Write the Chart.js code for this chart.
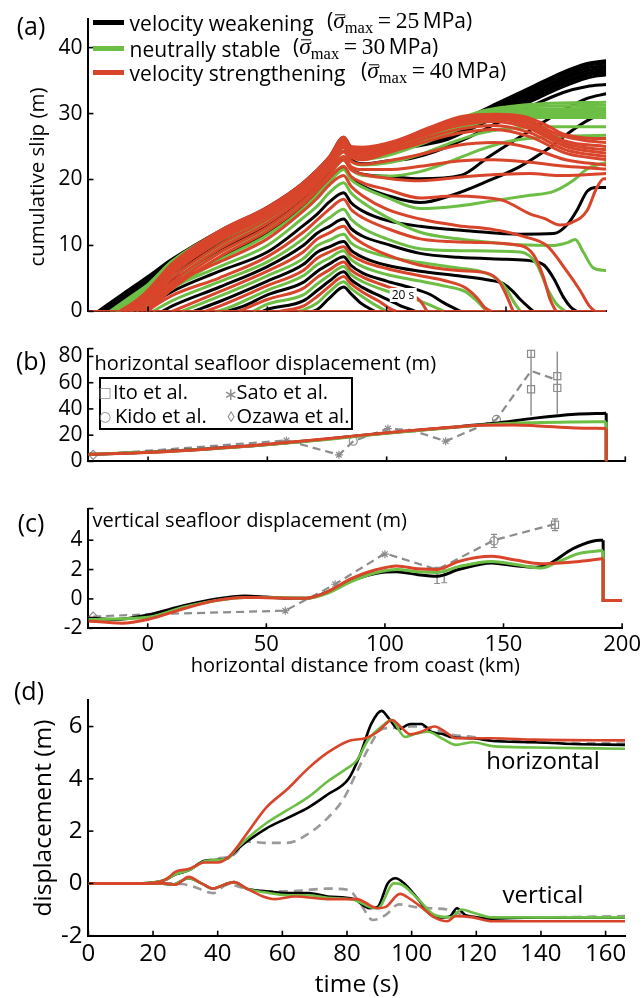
<!DOCTYPE html>
<html><head><meta charset="utf-8">
<script src="https://cdn.jsdelivr.net/npm/chart.js@4.4.1/dist/chart.umd.min.js"></script>
<style>
html,body{margin:0;padding:0;background:#fff;}
body{width:644px;height:998px;position:relative;overflow:hidden;font-family:'Open Sans','DejaVu Sans',sans-serif;color:#000;}
canvas{position:absolute;left:0;}
.t{position:absolute;white-space:nowrap;line-height:1;}
.c{transform:translate(-50%,-50%);}
.v{transform:translate(0,-50%);}
.r{transform:translate(-50%,-50%) rotate(-90deg);}
.ser{font-family:'Liberation Serif','DejaVu Serif',serif;font-size:1.12em;}
.ser sub{font-size:0.7em;vertical-align:-0.3em;}
.sb{font-style:italic;position:relative;display:inline-block;}
.sb::before{content:"";position:absolute;left:18%;right:2%;top:0.2em;border-top:1.3px solid #000;}
.sw{position:absolute;height:5px;}
#lgb{position:absolute;left:98.8px;top:377px;width:250px;height:49px;border:2px solid #000;background:#fff;}
.mk{color:#8c8c8c;}
</style></head>
<body>
<canvas id="ca" width="644" height="330" style="top:0px;width:644px;height:330px"></canvas>
<canvas id="cb" width="644" height="150" style="top:330px;width:644px;height:150px"></canvas>
<canvas id="cc" width="644" height="200" style="top:490px;width:644px;height:200px"></canvas>
<canvas id="cd" width="644" height="318" style="top:680px;width:644px;height:318px"></canvas>

<div class="t c" style="left:31px;top:25px;font-size:25px">(a)</div>
<div class="t c" style="left:31px;top:360px;font-size:25px">(b)</div>
<div class="t c" style="left:31px;top:522px;font-size:25px">(c)</div>
<div class="t c" style="left:29px;top:690px;font-size:25px">(d)</div>
<div class="t r" style="left:36px;top:177px;font-size:20.5px">cumulative slip (m)</div>

<div class="sw" style="left:93px;top:20px;width:31px;background:#000"></div>
<div class="sw" style="left:93px;top:46px;width:31px;background:#6dbe45"></div>
<div class="sw" style="left:93px;top:70px;width:31px;background:#d8452b"></div>
<div class="t v" style="left:129.6px;top:23px;font-size:21px">velocity weakening</div>
<div class="t v" style="left:327px;top:23px;font-size:21px">(<span class="ser"><span class="sb">σ</span><sub>max</sub>&thinsp;=&thinsp;25</span>&thinsp;MPa)</div>
<div class="t v" style="left:129.6px;top:48.5px;font-size:21px">neutrally stable</div>
<div class="t v" style="left:293px;top:48.5px;font-size:21px">(<span class="ser"><span class="sb">σ</span><sub>max</sub>&thinsp;=&thinsp;30</span>&thinsp;MPa)</div>
<div class="t v" style="left:129.6px;top:73px;font-size:21px">velocity strengthening</div>
<div class="t v" style="left:361px;top:73px;font-size:21px">(<span class="ser"><span class="sb">σ</span><sub>max</sub>&thinsp;=&thinsp;40</span>&thinsp;MPa)</div>
<div class="t c" style="left:403px;top:295px;font-size:12px;background:#fff;padding:1px 2px">20 s</div>

<div class="t v" style="left:94.6px;top:363px;font-size:20px">horizontal seafloor displacement (m)</div>
<div id="lgb"></div>
<div class="t c mk" style="left:105px;top:391.7px;font-size:14px">□</div>
<div class="t v" style="left:113px;top:391.7px;font-size:20px">Ito et al.</div>
<div class="t c mk" style="left:230.5px;top:393px;font-size:17px">∗</div>
<div class="t v" style="left:236.6px;top:391.7px;font-size:20px">Sato et al.</div>
<div class="t c mk" style="left:105px;top:416px;font-size:14px">○</div>
<div class="t v" style="left:115px;top:416px;font-size:20px">Kido et al.</div>
<div class="t c mk" style="left:231px;top:416px;font-size:15px">◊</div>
<div class="t v" style="left:236.6px;top:416px;font-size:20px">Ozawa et al.</div>

<div class="t v" style="left:92.6px;top:520px;font-size:20px">vertical seafloor displacement (m)</div>

<div class="t c" style="left:543px;top:760px;font-size:24px">horizontal</div>
<div class="t c" style="left:543px;top:894px;font-size:24px">vertical</div>

<script>
// ---------------- tick labels ----------------
const kmTicksA = [0, 50, 100, 150];
const kmTicksBC = [0, 50, 100, 150, 200];
const slipTicks = [0, 10, 20, 30, 40];
const horizTicks = [0, 20, 40, 60, 80];
const vertTicks = [-2, 0, 2, 4];
const dispTicks = [-2, 0, 2, 4, 6];
const timeTicks = [0, 20, 40, 60, 80, 100, 120, 140, 160];

// ---------------- (a) cumulative slip profiles [km, m] ----------------
const slipVW = [ // velocity weakening (black)
 [[69,0],[71,0.3],[76,2.0],[82,3.7],[85,2.7],[89,1.3],[95,0]],
 [[48,0],[50,0.3],[65,1.6],[71,3.2],[76,4.6],[82,6.0],[85,4.8],[90,3.6],[98,2.2],[105,1.0],[112,0]],
 [[33,0],[40,0.8],[50,2.5],[65,4.4],[71,6.1],[76,7.2],[82,8.3],[85,7.0],[90,5.8],[100,4.6],[110,3.6],[118,2.6],[124,1.3],[131,0]],
 [[19,0],[30,1.5],[50,4.6],[65,7.1],[71,9.0],[76,9.8],[82,10.6],[85,9.3],[90,8.2],[100,7.0],[114,6.1],[130,5.4],[142,4.8],[149,4.2],[153,3.0],[156,1.8],[161.5,0]],
 [[6,0],[10,0.8],[30,3.7],[50,6.8],[65,10],[71,11.9],[76,12.9],[82,14],[85,12.6],[90,11.4],[100,10.2],[114,8.8],[130,8.2],[150,7.9],[160,7.7],[166,7.0],[170,5.0],[174,2.2],[177,0.7],[179.6,0]],
 [[-4,0],[0,0.8],[10,3.0],[30,6.1],[50,9],[65,13],[71,14.8],[76,16.6],[82,18],[85,16.5],[90,15.2],[100,13.8],[114,12.9],[135,12.2],[156,11.7],[170,11.8],[176,13.3],[180,15.5],[184,18.2],[188,18.8],[192,18.8]],
 [[-6,0],[0,1.3],[10,3.6],[30,8.0],[50,11.8],[65,15.8],[76,19.8],[82,21.8],[85,20.3],[90,19.0],[100,17.6],[114,16.5],[128,17.7],[142,19.7],[156,22],[167,24.5],[178,27.5],[186,29.3],[192,30]],
 [[-9,0],[0,2.0],[10,4.6],[30,9.2],[50,12.9],[65,16.9],[76,20.9],[82,23],[85,21.6],[90,20.8],[100,20.5],[114,20.1],[131,20.6],[143,23.5],[160,27.4],[174,30.5],[184,32.3],[192,33]],
 [[-12,0],[0,2.9],[10,5.6],[30,10.3],[50,13.9],[65,17.8],[76,21.8],[82,24.3],[85,23],[90,22.4],[100,22.8],[110,23.2],[120,24.2],[132,26],[146,28.5],[160,31],[174,33.2],[184,34.1],[192,34.4]],
 [[-14,0],[0,3.6],[10,6.4],[30,11.0],[50,14.6],[65,18.5],[76,22.4],[82,25.2],[85,24],[90,23.6],[100,24.5],[110,24.9],[125,26],[132,27.1],[146,29.5],[160,31.8],[174,34.1],[184,35.4],[192,35.9]],
 [[-15,0],[0,3.9],[10,6.7],[30,11.3],[50,14.9],[65,18.7],[76,22.6],[82,25.5],[85,24.2],[90,23.8],[100,24.6],[110,25.1],[125,26.3],[132,27.5],[146,29.9],[160,32.2],[174,34.5],[184,35.8],[192,36.25]],
 [[-16,0],[0,4.2],[10,7.0],[30,11.5],[50,15.1],[65,18.9],[76,22.8],[82,25.7],[85,24.4],[90,23.9],[100,24.8],[110,25.4],[125,26.6],[132,27.8],[146,30.2],[160,32.5],[174,34.8],[184,36.1],[192,36.6]],
 [[-18,0],[0,4.6],[10,7.3],[30,11.7],[50,15.3],[65,19.0],[76,23.0],[82,25.9],[85,24.6],[90,24.0],[100,25.0],[110,25.6],[125,26.9],[132,28.2],[146,30.6],[160,32.9],[174,35.2],[184,36.5],[192,36.95]],
 [[-19,0],[-10,2.4],[0,4.9],[10,7.5],[30,11.9],[50,15.5],[65,19.2],[76,23.1],[82,26.1],[85,24.7],[90,24.1],[100,25.1],[110,25.8],[125,27.2],[132,28.5],[146,30.9],[160,33.2],[174,35.5],[184,36.9],[192,37.3]],
 [[-20,0],[-10,2.6],[0,5.1],[10,7.7],[30,12.0],[50,15.6],[65,19.3],[76,23.2],[82,26.2],[85,24.8],[90,24.2],[100,25.2],[110,26],[125,27.4],[132,28.8],[146,31.2],[160,33.6],[174,35.9],[184,37.3],[192,37.65]],
 [[-21,0],[-10,2.8],[0,5.3],[10,7.9],[30,12.2],[50,15.8],[65,19.5],[76,23.4],[82,26.4],[85,24.9],[90,24.3],[100,25.3],[110,26.1],[125,27.6],[132,29],[146,31.5],[160,33.9],[174,36.3],[184,37.6],[192,38]]
];
const slipNS = [ // neutrally stable (green)
 [[63,0],[65,0.2],[71,1.3],[76,3.0],[82,4.5],[85,3.5],[90,2.2],[96,0.8],[100,0]],
 [[44,0],[50,1.1],[65,2.5],[71,4.2],[76,5.5],[82,6.8],[85,5.6],[90,4.5],[100,3.1],[110,2.1],[118,1.0],[124,0]],
 [[28,0],[30,0.1],[50,3.2],[65,5.4],[71,7.1],[76,8.1],[82,9.2],[85,7.9],[90,6.8],[100,5.6],[114,4.6],[125,3.8],[133,3.0],[138,1.5],[142,0]],
 [[14,0],[30,2.3],[50,5.4],[65,8.0],[71,10],[76,10.8],[82,11.7],[85,10.4],[90,9.4],[100,8.3],[114,7.4],[130,6.6],[140,6.0],[146,5.0],[150,3.5],[153,1.6],[156,0]],
 [[2,0],[10,1.6],[30,4.5],[50,7.5],[65,11],[71,12.9],[76,14.2],[82,15.5],[85,14],[90,12.6],[100,11.0],[114,9.5],[135,9.2],[156,9.0],[163,7.1],[167,3.7],[171,1.2],[174.8,0]],
 [[-7,0],[0,1.4],[10,3.6],[30,6.8],[50,10],[65,14.2],[71,16],[76,18],[82,19.5],[85,18],[90,16.5],[100,14.3],[114,12.0],[130,11.0],[145,10.4],[156,10.1],[170,10.0],[175.5,10.4],[179,10.9],[182.4,9],[186.6,6.6],[192,6.2]],
 [[-5,0],[0,1.1],[10,3.4],[30,7.8],[50,11.6],[65,15.6],[76,19.6],[82,21.5],[85,20],[90,18.8],[100,17.3],[114,15.6],[130,16],[145,16.8],[160,17.6],[170,18.2],[178,19.8],[184,21.6],[192,22.6]],
 [[-8,0],[0,1.8],[10,4.3],[30,8.9],[50,12.6],[65,16.6],[76,20.6],[82,23],[85,21.6],[90,20.6],[100,20.5],[114,21.2],[125,22.5],[139,24.5],[150,25.7],[165,26.4],[192,26.7]],
 [[-10,0],[0,2.5],[10,5.2],[30,9.9],[50,13.6],[65,17.5],[76,21.5],[82,24.2],[85,22.8],[90,22.2],[100,22.5],[114,23.8],[125,25.3],[139,27],[150,27.7],[165,28],[192,28.0]],
 [[-12,0],[0,3.1],[10,6.0],[30,10.7],[50,14.3],[65,18.2],[76,22.2],[82,25],[85,23.6],[90,23.1],[100,23.6],[114,25.3],[125,26.9],[139,28.6],[150,29.2],[165,29.4],[192,29.4]],
 [[-12.5,0],[0,3.2],[10,6.2],[30,10.9],[50,14.5],[65,18.4],[76,22.3],[82,25.2],[85,23.8],[90,23.2],[100,23.8],[114,25.5],[125,27.2],[139,29],[150,29.6],[165,29.75],[192,29.75]],
 [[-13,0],[0,3.4],[10,6.4],[30,11.1],[50,14.7],[65,18.6],[76,22.5],[82,25.4],[85,24],[90,23.4],[100,24],[114,25.8],[125,27.5],[139,29.3],[150,29.9],[165,30.1],[192,30.1]],
 [[-13.5,0],[0,3.5],[10,6.6],[30,11.3],[50,14.9],[65,18.7],[76,22.6],[82,25.6],[85,24.1],[90,23.5],[100,24.1],[114,26],[125,27.7],[139,29.5],[150,30.1],[165,30.4],[192,30.45]],
 [[-14,0],[0,3.7],[10,6.9],[30,11.5],[50,15.1],[65,18.9],[76,22.8],[82,25.8],[85,24.3],[90,23.6],[100,24.3],[114,26.2],[125,28],[139,29.8],[150,30.4],[165,30.7],[192,30.8]],
 [[-15,0],[0,3.9],[10,7.2],[30,11.8],[50,15.3],[65,19.1],[76,23.0],[82,26],[85,24.5],[90,23.7],[100,24.5],[114,26.4],[125,28.2],[139,30.1],[150,30.7],[165,31.1],[192,31.25]],
 [[-16,0],[-5,2.8],[0,4.1],[10,7.6],[30,12.1],[50,15.6],[65,19.3],[76,23.2],[82,26.2],[85,24.6],[90,23.8],[100,24.6],[114,26.6],[125,28.4],[139,30.3],[150,31],[165,31.5],[192,31.7]]
];
const slipVS = [ // velocity strengthening (red)
 [[55,0],[65,0.8],[71,2.3],[76,3.8],[82,5.3],[85,4.2],[90,2.9],[97,1.5],[101,0.5],[104,0]],
 [[38,0],[50,1.8],[65,3.5],[71,5.2],[76,6.3],[82,7.5],[85,6.3],[90,5.2],[100,3.8],[110,2.6],[114,1.6],[117,0]],
 [[24,0],[30,0.8],[50,3.9],[65,6.2],[71,8.1],[76,9.0],[82,9.8],[85,8.6],[90,7.6],[100,6.5],[114,5.4],[125,4.6],[133,3.6],[138,2.0],[141,0.6],[144,0]],
 [[10,0],[30,3.0],[50,6.1],[65,9.0],[71,11],[76,11.9],[82,12.9],[85,11.6],[90,10.3],[100,8.6],[114,7.0],[130,6.2],[142,5.8],[147,4.6],[150,2.6],[153,0]],
 [[-1,0],[10,2.4],[30,5.1],[50,8.3],[65,12],[71,13.9],[76,15.5],[82,17],[85,15.5],[90,14.2],[100,12.6],[114,11],[135,10.5],[156,10],[161.5,8.6],[165.7,5.2],[168.5,1.8],[171,0]],
 [[-10,0],[0,1.8],[10,4.2],[30,7.5],[50,11],[65,15.2],[71,17.2],[76,19.2],[82,20.6],[85,19],[90,17.5],[100,15.5],[114,14],[130,13],[145,12.4],[158,11.3],[167,10],[175.5,6.1],[181,3.2],[185,0.8],[188,0],[192,0]],
 [[0,0],[10,3.4],[30,8.3],[50,12.2],[65,16.2],[76,20.2],[82,22],[85,20.5],[90,19.5],[100,18.5],[114,17.2],[128,17.5],[140,17.3],[149,16.8],[160,14.8],[166,14.1],[172.6,13.1],[177,13.4],[184,15.3],[188,18.7],[191,20.1],[192,20.1]],
 [[-1,0],[10,3.8],[30,8.9],[50,12.8],[65,16.8],[76,20.8],[82,23],[85,21.5],[90,20.8],[100,20.2],[114,19.8],[135,20.5],[160,20.9],[172,20.6],[182,20.7],[192,20.9]],
 [[-3,0],[0,0.8],[10,4.4],[30,9.5],[50,13.4],[65,17.4],[76,21.4],[82,23.5],[85,22],[90,21.5],[100,21.5],[114,22],[130,22.8],[145,23],[160,22.6],[175,22],[192,21.6]],
 [[-5,0],[0,1.4],[10,5.0],[30,10.1],[50,14.0],[65,17.9],[76,21.9],[82,24.2],[85,22.8],[90,22.3],[100,22.8],[114,23.8],[130,25.2],[145,25.6],[160,24.8],[175,23],[192,22.2]],
 [[-7,0],[0,1.9],[10,5.6],[30,10.7],[50,14.5],[65,18.4],[76,22.4],[82,24.8],[85,23.4],[90,23],[100,24],[114,25.5],[130,27],[145,27.6],[160,26.5],[175,24],[192,23]],
 [[-8,0],[0,2.1],[10,5.9],[30,11.0],[50,14.8],[65,18.6],[76,22.6],[82,25.1],[85,23.7],[90,23.4],[100,24.4],[114,26],[130,27.6],[145,28.2],[160,27.1],[175,24.5],[192,23.5]],
 [[-9,0],[0,2.4],[10,6.2],[30,11.2],[50,15.0],[65,18.8],[76,22.8],[82,25.5],[85,24],[90,23.8],[100,24.8],[114,26.5],[130,28.2],[145,28.8],[160,27.7],[175,25],[192,24]],
 [[-10,0],[0,2.6],[10,6.5],[30,11.5],[50,15.2],[65,19.0],[76,23.0],[82,25.7],[85,24.2],[90,24.0],[100,25.0],[114,26.8],[130,28.6],[145,29.2],[160,28.1],[175,25.4],[192,24.5]],
 [[-11,0],[0,2.8],[10,6.7],[30,11.7],[50,15.4],[65,19.2],[76,23.1],[82,26],[85,24.5],[90,24.3],[100,25.3],[114,27.1],[130,28.9],[145,29.5],[160,28.5],[175,25.8],[192,25]],
 [[-11.5,0],[0,3.0],[10,6.9],[30,12.0],[50,15.6],[65,19.4],[76,23.3],[82,26.2],[85,24.8],[90,24.6],[102,25.6],[116,27.5],[131,29.3],[146,29.7],[159,29],[172,26.8],[183,25.9],[192,25.6]],
 [[-12,0],[-5,1.6],[0,3.2],[10,7.2],[30,12.2],[50,15.8],[65,19.5],[76,23.4],[82,26.4],[85,25],[90,24.9],[104,25.9],[118,27.9],[132,29.6],[146,29.9],[157,29.6],[166,28.4],[174,26.9],[183,26.3],[192,26.2]]
];
const zeroSlip = [[-25,0],[192,0]];

// ---------------- (b) horizontal seafloor displacement [km, m] ----------------
const horizVW = [[-25,5.4],[0,7],[24,9.4],[50,12.8],[76,17.2],[100,21.7],[124,25.5],[145,29],[162,33],[179,36],[192,36.8]];
const horizNS = [[-25,5.4],[0,6.9],[24,9.2],[50,12.6],[76,16.9],[100,21.4],[124,25.3],[145,28.4],[162,29.5],[179,30],[192,30.2]];
const horizVS = [[-25,5.3],[0,6.8],[24,9.3],[50,13],[76,17.5],[100,21.8],[124,25.6],[140,27.5],[153,27.7],[162,27.2],[179,25.5],[192,25.1]];
const horizTrenchVW = [[192,36.8],[192,0]];
const horizTrenchNS = [[192,30.2],[192,0]];
const horizTrenchVS = [[192,25.1],[192,0]];
const horizObsLine = [[-23,5],[58,16],[80,5],[86,15.4],[100.5,25],[110,24],[124.7,15.4],[146,32],[160.5,69],[171.5,62]];
const horizIto = [[160.5,82],[160.5,55],[171.5,65],[171.5,56]];
const horizSato = [[58,16],[80,5],[100.5,25],[124.7,15.4]];
const horizKido = [[86,15.4],[146,32]];
const horizOzawa = [[-23,5]];
const horizItoErr1 = [[160.5,35],[160.5,84.5]];
const horizItoErr2 = [[171.5,36.3],[171.5,83.8]];

// ---------------- (c) vertical seafloor displacement [km, m] ----------------
const vertVW = [[-25,-1.3],[-14,-1.4],[0,-1.1],[15.5,-0.45],[29,0],[41,0.2],[50,0.13],[58.6,0.05],[67,0.05],[76,0.5],[86,1.25],[96.5,1.75],[105,1.85],[114,1.65],[122,1.55],[131,2.0],[145,2.45],[155,2.25],[164,2.15],[169,2.35],[179,3.4],[188,3.95],[192,4.0]];
const vertNS = [[-25,-1.4],[0,-1.25],[15.5,-0.55],[29,-0.1],[41,0.1],[50,0.1],[67,0.05],[76,0.4],[86,1.2],[96.5,1.8],[105,2.0],[114,1.85],[122,1.8],[131,2.2],[145,2.55],[155,2.35],[166,2.1],[172,2.45],[182,3.1],[192,3.3]];
const vertVS = [[-25,-1.5],[-11,-1.65],[0,-1.4],[15.5,-0.65],[29,-0.1],[41,0.1],[50,0.08],[67,0.05],[76,0.5],[86,1.4],[96.5,2.0],[105,2.25],[114,2.05],[122,2.0],[131,2.55],[145,2.9],[155,2.65],[166,2.4],[174,2.45],[182,2.55],[192,2.75]];
const vertTrenchVW = [[192,4.0],[192,-0.1],[200,-0.1]];
const vertTrenchNS = [[192,3.3],[192,-0.1],[200,-0.1]];
const vertTrenchVS = [[192,2.75],[192,-0.1],[200,-0.1]];
const vertObsLine = [[-23,-1.2],[0,-1.05],[58,-0.8],[79,1.0],[100,3.1],[122,2.0],[146,4.0],[171.7,5.1]];
const vertSato = [[58,-0.8],[79,1.0],[100,3.05]];
const vertOzawa = [[-23,-1.2]];
const vertKido = [[146,3.95]];
const vertIto = [[171.7,5.05]];
const vertErr1 = [[122,1.05],[122,2.15]];
const vertErr2 = [[125,1.1],[125,2.2]];
const vertErr3 = [[146,3.5],[146,4.4]];
const vertErr4 = [[171.7,4.65],[171.7,5.45]];

// ---------------- (d) time series at a station [s, m] ----------------
const hVW = [[0,0],[15,0],[21,0.05],[24,0.15],[27,0.35],[31,0.5],[36,0.87],[40,0.9],[43,0.95],[46,1.3],[49,1.6],[55,2.1],[61.5,2.5],[68,2.9],[74,3.4],[80.5,4.0],[84,4.9],[87.5,6.1],[90.7,6.6],[93,6.3],[96,5.9],[99.6,6.1],[103,6.1],[106,5.8],[110,5.7],[112,5.6],[119,5.55],[125,5.45],[138,5.4],[150,5.33],[166,5.3]];
const hNS = [[0,0],[15,0],[21,0.05],[24,0.15],[27,0.35],[31,0.5],[36,0.85],[40,0.9],[43,0.95],[46,1.35],[49,1.7],[55,2.3],[61.5,2.8],[68,3.3],[74,3.9],[80,4.4],[83,4.7],[86.6,5.5],[91.7,6.1],[93.7,6.25],[98,5.6],[100.6,5.7],[105,5.8],[110,5.5],[113.6,5.3],[119,5.4],[125,5.25],[138,5.2],[166,5.15]];
const hVS = [[0,0],[15,0],[22,0.05],[24.5,0.2],[27,0.45],[31,0.55],[36,0.8],[40,0.8],[43.7,1.05],[49,1.9],[55,2.9],[61.5,3.6],[68,4.4],[74,5.0],[80.5,5.45],[85.6,5.55],[89.5,5.8],[94,6.25],[96.5,6.0],[99.6,5.7],[103,5.8],[107,6.0],[111,5.75],[113.6,5.55],[119,5.55],[125,5.55],[138,5.5],[166,5.47]];
const hObs = [[0,0],[15,0],[22,0.05],[27,0.35],[31,0.5],[36,0.85],[40,0.95],[45,1.1],[49,1.6],[55,1.55],[61.5,1.55],[68,1.9],[74,2.5],[79,3.25],[83,4.25],[87,5.25],[90.7,5.9],[94.5,5.95],[100,6.0],[103,6.0],[107,5.9],[112,5.7],[119,5.6],[125,5.5],[138,5.4],[166,5.35]];
const vVW = [[0,0],[22,0],[26,-0.05],[31,0.2],[35,0.0],[38.6,-0.2],[42,-0.05],[45,0.05],[49,-0.2],[55,-0.3],[61.5,-0.37],[68,-0.37],[74,-0.5],[82,-0.6],[87,-0.95],[89.5,-0.9],[92.6,0],[95,0.2],[97.7,0],[102,-0.6],[106,-1.2],[110,-1.3],[112,-1.25],[114,-0.95],[116.5,-1.2],[120,-1.3],[125,-1.35],[138,-1.3],[166,-1.3]];
const vNS = [[0,0],[22,0],[26,-0.05],[31,0.2],[35,0],[38.6,-0.2],[42,-0.05],[45,0.05],[49,-0.2],[55,-0.35],[61.5,-0.45],[68,-0.45],[74,-0.55],[82,-0.62],[87,-0.9],[89.5,-0.95],[94.5,0],[97,-0.05],[102,-0.6],[107,-1.2],[112,-1.3],[115.5,-1.0],[118.5,-1.1],[125,-1.3],[138,-1.3],[166,-1.3]];
const vVS = [[0,0],[23,0],[27,-0.05],[31,0.25],[35,0],[38.6,-0.2],[42,-0.05],[45,0.05],[49,-0.2],[54,-0.5],[57.7,-0.6],[64,-0.5],[74,-0.6],[83,-0.6],[89.5,-0.95],[92,-0.9],[96.4,-0.4],[99.6,-0.6],[103.4,-0.95],[107,-1.3],[111,-1.45],[113.6,-1.25],[119,-1.3],[125,-1.45],[166,-1.45]];
const vObs = [[0,0],[25,0],[29,-0.02],[32,-0.1],[38.6,-0.37],[43,-0.05],[49,-0.2],[55,-0.3],[61.5,-0.3],[68,-0.25],[74,-0.2],[80.5,-0.25],[84,-0.75],[88,-1.4],[92,-1.2],[96,-0.8],[101,-0.9],[106,-0.95],[111,-1.0],[116,-1.2],[125,-1.3],[138,-1.3],[166,-1.25]];

// ---------------- styling ----------------
const FONT = "'Open Sans','DejaVu Sans',sans-serif";
const BLACK = '#000000', GREEN = '#6dbe45', RED = '#d8452b', GRAY = '#8c8c8c';

const innerTicks = {
  id: 'innerTicks',
  afterDatasetsDraw(chart, args, o) {
    const ctx = chart.ctx, a = chart.chartArea, len = o.len || 5;
    ctx.save(); ctx.strokeStyle = '#000'; ctx.lineWidth = 1.6;
    (o.x || []).forEach(v => { const p = chart.scales.x.getPixelForValue(v); ctx.beginPath(); ctx.moveTo(p, a.bottom); ctx.lineTo(p, a.bottom - len); ctx.stroke(); });
    (o.y || []).forEach(v => { const p = chart.scales.y.getPixelForValue(v); ctx.beginPath(); ctx.moveTo(a.left, p); ctx.lineTo(a.left + len, p); ctx.stroke(); });
    ctx.restore();
  }
};

function line(data, color, width, order, extra) {
  return Object.assign({ data, borderColor: color, backgroundColor: color, borderWidth: width,
    pointRadius: 0, fill: false, cubicInterpolationMode: 'monotone', order }, extra || {});
}
function straight(data, color, width, order, extra) {
  return line(data, color, width, order, Object.assign({ cubicInterpolationMode: 'default', tension: 0 }, extra || {}));
}
function marks(data, style, radius, order) {
  return { data, showLine: false, pointStyle: style, pointRadius: radius, pointBorderColor: GRAY,
    pointBackgroundColor: 'rgba(255,255,255,0)', pointBorderWidth: 1.2, borderColor: GRAY, order };
}
function scale(pos, o) {
  return {
    type: 'linear', position: pos, min: o.min, max: o.max,
    grid: { display: false, drawTicks: false },
    border: { display: true, color: '#000', width: 2 },
    ticks: { display: !!o.labels, color: '#000', font: { family: FONT, size: o.font || 20 }, padding: o.pad || 0, maxRotation: 0, autoSkip: false },
    afterBuildTicks: s => { s.ticks = o.ticks.map(v => ({ value: v })); },
    afterFit: s => { if (pos === 'left') s.width = o.size; else s.height = o.size; },
    title: o.title ? { display: true, text: o.title, color: '#000', font: { family: FONT, size: o.titleFont, lineHeight: o.titleLH || 1.2 }, padding: o.titlePad } : { display: false }
  };
}
function opts(padding, x, y, ticksOpt) {
  return {
    responsive: false, animation: false, devicePixelRatio: 1, events: [],
    layout: { padding, autoPadding: false },
    plugins: { legend: { display: false }, tooltip: { enabled: false }, innerTicks: ticksOpt },
    scales: { x, y }
  };
}

// ---------------- (a) ----------------
new Chart(document.getElementById('ca'), {
  type: 'line',
  data: { datasets: [
    straight(zeroSlip, RED, 3, 0),
    ...slipVS.map(d => line(d, RED, 3, 0)),
    ...slipNS.map(d => line(d, GREEN, 3, 1)),
    ...slipVW.map(d => line(d, BLACK, 3, 2))
  ]},
  options: opts({ top: 13, right: 37.8, bottom: 0, left: 0 },
    scale('bottom', { min: -25, max: 192, ticks: kmTicksA, size: 10.7, labels: false }),
    scale('left', { min: 0, max: 44.4, ticks: slipTicks, size: 88.4, labels: true, font: 21, pad: 6 }),
    { x: kmTicksA, y: slipTicks, len: 5 }),
  plugins: [innerTicks]
});

// ---------------- (b) ----------------
new Chart(document.getElementById('cb'), {
  type: 'line',
  data: { datasets: [
    line(horizVS, RED, 3, 0), straight(horizTrenchVS, RED, 3, 0),
    line(horizNS, GREEN, 3, 1), straight(horizTrenchNS, GREEN, 3, 1),
    line(horizVW, BLACK, 3, 2), straight(horizTrenchVW, BLACK, 3, 2),
    marks(horizIto, 'rect', 5, 3), marks(horizSato, 'star', 4, 3), marks(horizKido, 'circle', 4, 3), marks(horizOzawa, 'rectRot', 4.5, 3),
    straight(horizObsLine, GRAY, 2.2, 4, { borderDash: [8, 5] }),
    straight(horizItoErr1, GRAY, 1.4, 5), straight(horizItoErr2, GRAY, 1.4, 5)
  ]},
  options: opts({ top: 16.1, right: 18.7, bottom: 0, left: 0 },
    scale('bottom', { min: -25, max: 200, ticks: kmTicksBC, size: 6, labels: false }),
    scale('left', { min: 0, max: 86, ticks: horizTicks, size: 88.4, labels: true, font: 21, pad: 6 }),
    { x: kmTicksBC, y: horizTicks.concat([86]), len: 5 }),
  plugins: [innerTicks]
});

// ---------------- (c) ----------------
const capStyle = { pointStyle: 'line', pointRadius: 3, pointBorderColor: GRAY, pointBorderWidth: 1.2 };
new Chart(document.getElementById('cc'), {
  type: 'line',
  data: { datasets: [
    line(vertVS, RED, 3, 0), straight(vertTrenchVS, RED, 3, 0),
    line(vertNS, GREEN, 3, 1), straight(vertTrenchNS, GREEN, 3, 1),
    line(vertVW, BLACK, 3, 2), straight(vertTrenchVW, BLACK, 3, 2),
    marks(vertIto, 'rect', 5, 3), marks(vertSato, 'star', 4, 3), marks(vertKido, 'circle', 4, 3), marks(vertOzawa, 'rectRot', 4.5, 3),
    straight(vertObsLine, GRAY, 2.2, 4, { borderDash: [8, 5] }),
    straight(vertErr1, GRAY, 1.4, 5, capStyle), straight(vertErr2, GRAY, 1.4, 5, capStyle),
    straight(vertErr3, GRAY, 1.4, 5, capStyle), straight(vertErr4, GRAY, 1.4, 5, capStyle)
  ]},
  options: opts({ top: 13.3, right: 18.7, bottom: 0, left: 0 },
    scale('bottom', { min: -25, max: 200, ticks: kmTicksBC, size: 61.7, labels: true, font: 22, pad: 3,
      title: 'horizontal distance from coast (km)', titleFont: 20, titlePad: { top: 0, bottom: 12 } }),
    scale('left', { min: -2, max: 6.15, ticks: vertTicks, size: 88.4, labels: true, font: 21, pad: 6 }),
    { x: kmTicksBC, y: vertTicks.concat([6.15]), len: 5 }),
  plugins: [innerTicks]
});

// ---------------- (d) ----------------
new Chart(document.getElementById('cd'), {
  type: 'line',
  data: { datasets: [
    line(hVS, RED, 2.6, 0), line(vVS, RED, 2.6, 0),
    line(hNS, GREEN, 2.6, 1), line(vNS, GREEN, 2.6, 1),
    line(hVW, BLACK, 2.6, 2), line(vVW, BLACK, 2.6, 2),
    line(hObs, '#999999', 2.6, 3, { borderDash: [9, 6] }), line(vObs, '#999999', 2.6, 3, { borderDash: [9, 6] })
  ]},
  options: opts({ top: 17.4, right: 19, bottom: 0, left: 0 },
    scale('bottom', { min: 0, max: 166, ticks: timeTicks, size: 62.3, labels: true, font: 24, pad: 4,
      title: 'time (s)', titleFont: 24.5, titleLH: 1, titlePad: { top: 0, bottom: 1 } }),
    scale('left', { min: -2, max: 7, ticks: dispTicks, size: 88.4, labels: true, font: 24, pad: 6,
      title: 'displacement (m)', titleFont: 24.5, titlePad: { top: 29, bottom: 0 } }),
    { x: timeTicks, y: dispTicks, len: 5 }),
  plugins: [innerTicks]
});
</script>
</body></html>
